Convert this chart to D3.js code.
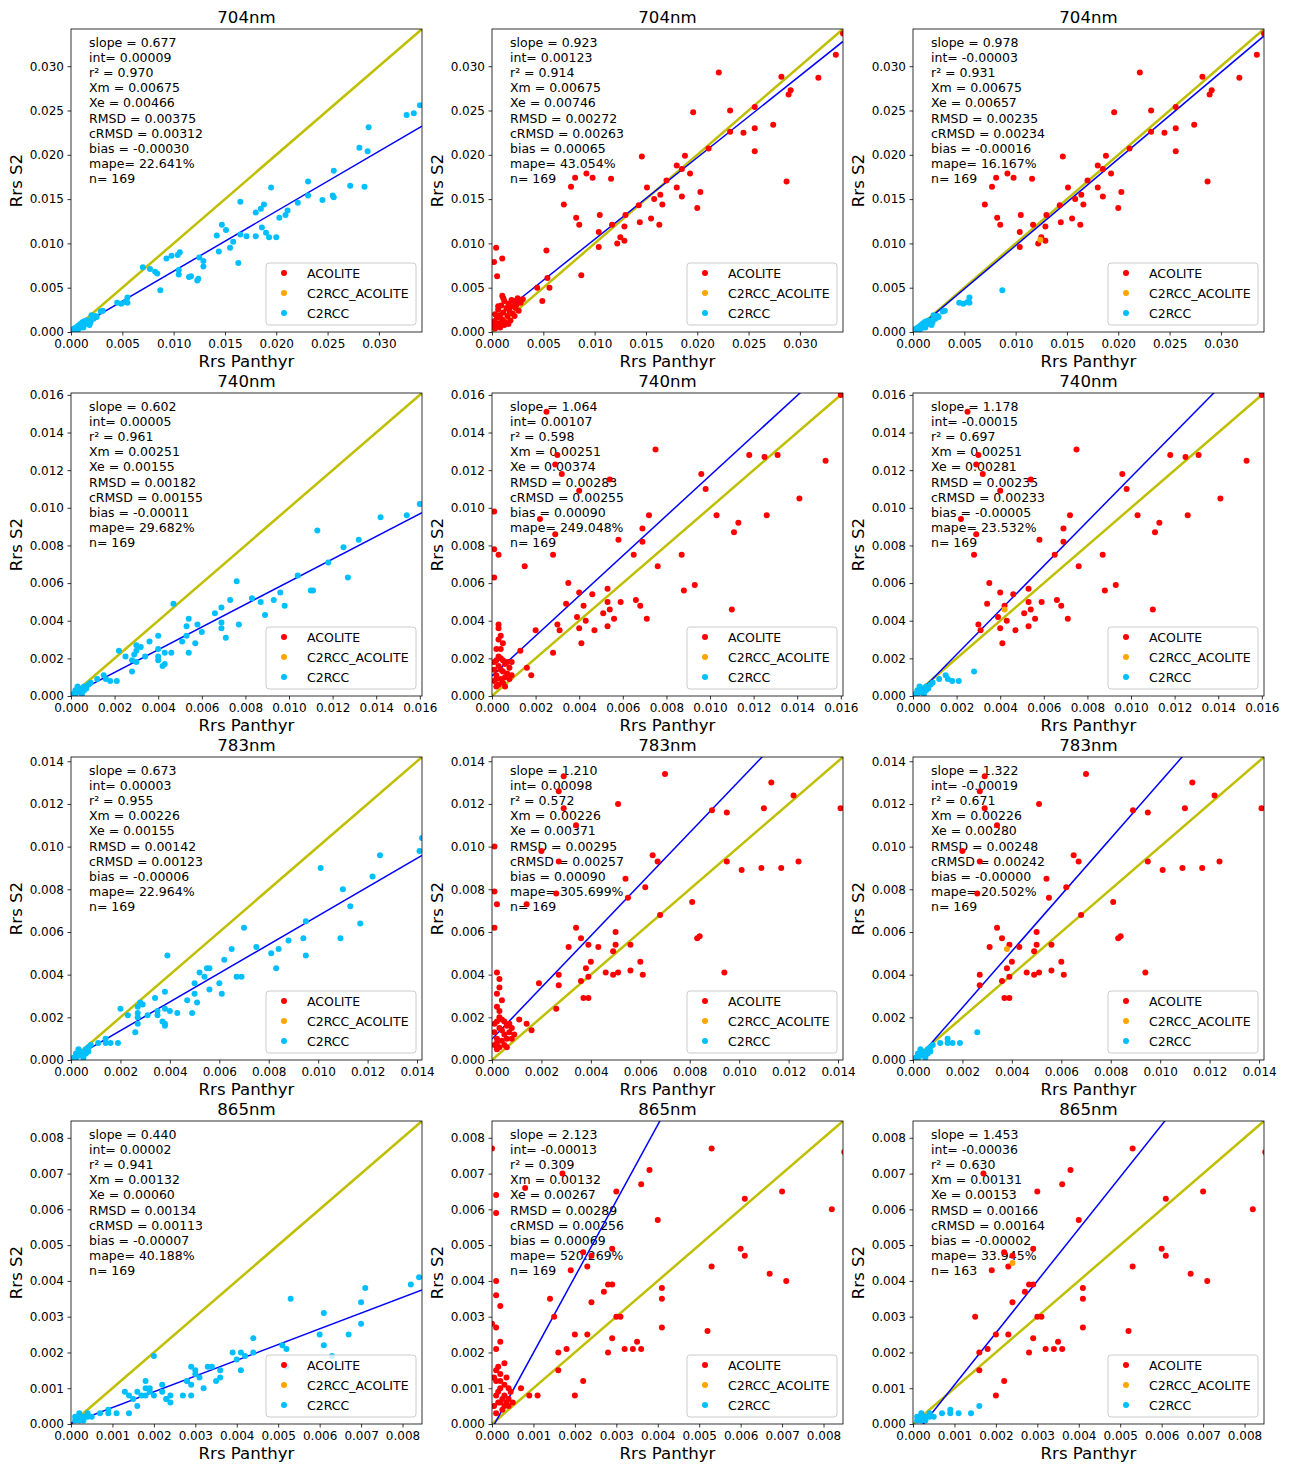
<!DOCTYPE html>
<html>
<head>
<meta charset="utf-8">
<script src="https://cdn.jsdelivr.net/npm/d3@7"></script>
<style>
  body { margin: 0; background: #fff; }
  text { font-family: "DejaVu Sans", sans-serif; }
</style>
</head>
<body>
<script>
// bands and axis limits (0 .. max on both axes)
var bands = ["704nm", "740nm", "783nm", "865nm"];
var axisMax = [0.0342, 0.0161, 0.0142, 0.00847];
var ticks704 = [0, 0.005, 0.010, 0.015, 0.020, 0.025, 0.030];
var ticks740 = [0, 0.002, 0.004, 0.006, 0.008, 0.010, 0.012, 0.014, 0.016];
var ticks783 = [0, 0.002, 0.004, 0.006, 0.008, 0.010, 0.012, 0.014];
var ticks865 = [0, 0.001, 0.002, 0.003, 0.004, 0.005, 0.006, 0.007, 0.008];
var seriesNames = ["ACOLITE", "C2RCC_ACOLITE", "C2RCC"];

// [Rrs Panthyr, Rrs S2]
var c2rcc704 = [[0.0340,0.0256],[0.0334,0.0247],[0.0327,0.0245],[0.0290,0.0231],[0.0281,0.0208],[0.0289,0.0204],
  [0.0256,0.0182],[0.0272,0.0165],[0.0286,0.0164],[0.0255,0.0154],[0.0256,0.0152],[0.0245,0.0149],[0.0231,0.0170],
  [0.0231,0.0154],[0.0221,0.0146],[0.0211,0.0137],[0.0209,0.0132],[0.0203,0.0129],[0.0200,0.0107],[0.0195,0.0163],
  [0.0188,0.0144],[0.0185,0.0139],[0.0180,0.0135],[0.0186,0.0118],[0.0190,0.0112],[0.0193,0.0107],[0.0180,0.0108],
  [0.0171,0.0108],[0.0165,0.0147],[0.0165,0.0110],[0.0163,0.0078],[0.0158,0.0102],[0.0155,0.0095],[0.0151,0.0115],
  [0.0147,0.0121],[0.0142,0.0109],[0.0144,0.0091],[0.0129,0.0074],[0.0129,0.0080],[0.0125,0.0084],[0.0124,0.0060],
  [0.0123,0.0058],[0.0117,0.0063],[0.0115,0.0062],[0.0106,0.0090],[0.0104,0.0087],[0.0105,0.0070],[0.0105,0.0065],
  [0.0098,0.0086],[0.0093,0.0083],[0.0087,0.0047],[0.0084,0.0066],[0.0082,0.0068],[0.0077,0.0071],[0.0070,0.0073],
  [0.0055,0.0039],[0.0053,0.0034],[0.0055,0.0033],[0.0049,0.0032],[0.0045,0.0033],[0.0031,0.0024],[0.0029,0.0023],
  [0.0025,0.0017],[0.0020,0.0019],[0.0018,0.0008],[0.0017,0.0013],[0.0002,0.0001],[0.0004,0.0003],[0.0005,0.0005],
  [0.0006,0.0002],[0.0007,0.0007],[0.0008,0.0004],[0.0009,0.0009],[0.0010,0.0006],[0.0011,0.0011],[0.0012,0.0008],
  [0.0013,0.0012],[0.0014,0.0010],[0.0015,0.0013],[0.0016,0.0009],[0.0003,0.0004],[0.0001,0.0002],[0.0012,0.0005],
  [0.0019,0.0011],[0.0022,0.0015],[0.0024,0.0018]];
var acolite704 = [[0.0342,0.0337],[0.0335,0.0313],[0.0318,0.0287],[0.0221,0.0293],[0.0282,0.0288],[0.0291,0.0273],
  [0.0289,0.0268],[0.0196,0.0248],[0.0232,0.0250],[0.0256,0.0254],[0.0256,0.0230],[0.0274,0.0234],[0.0232,0.0226],
  [0.0245,0.0225],[0.0256,0.0204],[0.0287,0.0170],[0.0211,0.0207],[0.0188,0.0199],[0.0180,0.0188],[0.0185,0.0184],
  [0.0193,0.0179],[0.0170,0.0171],[0.0180,0.0163],[0.0185,0.0153],[0.0203,0.0158],[0.0200,0.0140],[0.0164,0.0155],
  [0.0166,0.0144],[0.0158,0.0150],[0.0163,0.0121],[0.0155,0.0128],[0.0151,0.0163],[0.0146,0.0198],[0.0144,0.0124],
  [0.0143,0.0143],[0.0130,0.0132],[0.0129,0.0119],[0.0129,0.0103],[0.0125,0.0107],[0.0122,0.0100],[0.0117,0.0121],
  [0.0116,0.0173],[0.0105,0.0132],[0.0104,0.0113],[0.0104,0.0096],[0.0098,0.0174],[0.0092,0.0179],[0.0081,0.0174],
  [0.0077,0.0164],[0.0070,0.0144],[0.0082,0.0129],[0.0085,0.0121],[0.0087,0.0064],[0.0053,0.0092],[0.0054,0.0061],
  [0.0056,0.0050],[0.0044,0.0050],[0.0049,0.0035],[0.0002,0.0079],[0.0004,0.0095],[0.0005,0.0063],[0.0010,0.0083],
  [0.0010,0.0041],[0.0002,0.0012],[0.0003,0.0020],[0.0004,0.0008],[0.0005,0.0016],[0.0006,0.0025],[0.0007,0.0010],
  [0.0008,0.0019],[0.0009,0.0030],[0.0010,0.0014],[0.0011,0.0022],[0.0012,0.0035],[0.0013,0.0011],[0.0014,0.0027],
  [0.0015,0.0018],[0.0016,0.0032],[0.0017,0.0024],[0.0018,0.0013],[0.0019,0.0029],[0.0020,0.0021],[0.0021,0.0035],
  [0.0022,0.0018],[0.0023,0.0027],[0.0024,0.0031],[0.0026,0.0024],[0.0028,0.0033],[0.0030,0.0037],[0.0008,0.0005],
  [0.0003,0.0004],[0.0012,0.0008],[0.0016,0.0009],[0.0001,0.0007],[0.0006,0.0029],[0.0011,0.0038],[0.0019,0.0036],
  [0.0025,0.0038]];
var mixed704 = [[0.0124,0.0104]];

var c2rcc740 = [[0.0160,0.0102],[0.0154,0.0096],[0.0142,0.0095],[0.0113,0.0088],[0.0132,0.0083],[0.0125,0.0079],
  [0.0118,0.0071],[0.0127,0.0063],[0.0104,0.0064],[0.0110,0.0056],[0.0111,0.0056],[0.0096,0.0055],[0.0093,0.0051],
  [0.0098,0.0048],[0.0087,0.0050],[0.0083,0.0052],[0.0089,0.0043],[0.0076,0.0061],[0.0073,0.0051],[0.0069,0.0047],
  [0.0066,0.0044],[0.0069,0.0039],[0.0069,0.0036],[0.0077,0.0038],[0.0071,0.0031],[0.0058,0.0038],[0.0060,0.0034],
  [0.0057,0.0028],[0.0054,0.0041],[0.0053,0.0037],[0.0053,0.0032],[0.0051,0.0029],[0.0054,0.0023],[0.0047,0.0049],
  [0.0046,0.0023],[0.0040,0.0032],[0.0040,0.0025],[0.0040,0.0021],[0.0043,0.0023],[0.0042,0.0016],[0.0043,0.0017],
  [0.0040,0.0019],[0.0036,0.0029],[0.0034,0.0021],[0.0030,0.0027],[0.0032,0.0026],[0.0030,0.0024],[0.0029,0.0022],
  [0.0028,0.0019],[0.0030,0.0018],[0.0025,0.0021],[0.0022,0.0024],[0.0028,0.0013],[0.0021,0.0008],[0.0018,0.0008],
  [0.0016,0.0009],[0.0015,0.0011],[0.0012,0.0009],[0.0001,0.0001],[0.0002,0.0003],[0.0003,0.0002],[0.0004,0.0004],
  [0.0005,0.0002],[0.0006,0.0005],[0.0007,0.0004],[0.0008,0.0006],[0.0009,0.0007],[0.0003,0.0005],[0.0005,0.0001],
  [0.0006,0.0003],[0.0002,0.0001],[0.0004,0.0003]];
var acolite740 = [[0.0160,0.0160],[0.0025,0.0151],[0.0075,0.0131],[0.0118,0.0128],[0.0125,0.0127],[0.0131,0.0128],
  [0.0153,0.0125],[0.0030,0.0128],[0.0029,0.0123],[0.0032,0.0118],[0.0096,0.0118],[0.0054,0.0115],[0.0098,0.0110],
  [0.0040,0.0109],[0.0141,0.0105],[0.0001,0.0098],[0.0103,0.0096],[0.0126,0.0096],[0.0072,0.0096],[0.0113,0.0092],
  [0.0022,0.0094],[0.0111,0.0087],[0.0069,0.0089],[0.0029,0.0086],[0.0058,0.0083],[0.0069,0.0082],[0.0001,0.0078],
  [0.0003,0.0075],[0.0028,0.0075],[0.0065,0.0075],[0.0087,0.0075],[0.0076,0.0069],[0.0015,0.0069],[0.0001,0.0063],
  [0.0035,0.0060],[0.0093,0.0059],[0.0088,0.0056],[0.0053,0.0057],[0.0040,0.0055],[0.0046,0.0054],[0.0034,0.0049],
  [0.0053,0.0050],[0.0059,0.0050],[0.0066,0.0051],[0.0042,0.0048],[0.0068,0.0048],[0.0054,0.0046],[0.0110,0.0046],
  [0.0051,0.0044],[0.0039,0.0042],[0.0056,0.0041],[0.0071,0.0041],[0.0043,0.0040],[0.0030,0.0038],[0.0053,0.0037],
  [0.0040,0.0036],[0.0047,0.0035],[0.0031,0.0035],[0.0020,0.0035],[0.0041,0.0028],[0.0028,0.0023],[0.0013,0.0024],
  [0.0016,0.0015],[0.0018,0.0011],[0.0009,0.0018],[0.0003,0.0038],[0.0003,0.0036],[0.0004,0.0032],[0.0003,0.0030],
  [0.0005,0.0028],[0.0004,0.0025],[0.0002,0.0025],[0.0001,0.0008],[0.0001,0.0014],[0.0002,0.0019],[0.0002,0.0011],
  [0.0003,0.0006],[0.0003,0.0016],[0.0004,0.0009],[0.0004,0.0020],[0.0005,0.0013],[0.0005,0.0007],[0.0006,0.0017],
  [0.0006,0.0010],[0.0007,0.0012],[0.0007,0.0018],[0.0008,0.0009],[0.0008,0.0015],[0.0009,0.0011],[0.0002,0.0005],
  [0.0001,0.0018],[0.0004,0.0014],[0.0006,0.0005],[0.0003,0.0021],[0.0005,0.0019],[0.0002,0.0009]];
var mixed740 = [[0.0042,0.0046]];

var c2rcc783 = [[0.0142,0.0104],[0.0141,0.0098],[0.0125,0.0096],[0.0101,0.0090],[0.0122,0.0086],[0.0110,0.0080],
  [0.0113,0.0072],[0.0117,0.0064],[0.0095,0.0065],[0.0070,0.0062],[0.0088,0.0056],[0.0094,0.0057],[0.0109,0.0057],
  [0.0095,0.0049],[0.0075,0.0053],[0.0065,0.0052],[0.0084,0.0052],[0.0081,0.0050],[0.0083,0.0043],[0.0062,0.0047],
  [0.0055,0.0043],[0.0056,0.0043],[0.0052,0.0041],[0.0054,0.0039],[0.0067,0.0039],[0.0069,0.0039],[0.0050,0.0036],
  [0.0056,0.0033],[0.0060,0.0036],[0.0061,0.0031],[0.0050,0.0031],[0.0051,0.0027],[0.0049,0.0022],[0.0047,0.0028],
  [0.0043,0.0022],[0.0040,0.0023],[0.0039,0.0049],[0.0038,0.0032],[0.0038,0.0024],[0.0034,0.0029],[0.0035,0.0023],
  [0.0035,0.0021],[0.0037,0.0018],[0.0038,0.0017],[0.0038,0.0016],[0.0031,0.0021],[0.0029,0.0026],[0.0028,0.0027],
  [0.0027,0.0025],[0.0027,0.0022],[0.0027,0.0020],[0.0027,0.0017],[0.0023,0.0021],[0.0020,0.0024],[0.0026,0.0013],
  [0.0019,0.0008],[0.0016,0.0008],[0.0014,0.0010],[0.0014,0.0008],[0.0011,0.0008],[0.0001,0.0001],[0.0002,0.0003],
  [0.0003,0.0002],[0.0004,0.0004],[0.0005,0.0002],[0.0006,0.0005],[0.0007,0.0004],[0.0007,0.0006],[0.0003,0.0005],
  [0.0005,0.0001],[0.0006,0.0003],[0.0002,0.0001],[0.0004,0.0003],[0.0008,0.0007]];
var acolite783 = [[0.0141,0.0118],[0.0070,0.0134],[0.0029,0.0133],[0.0027,0.0126],[0.0113,0.0130],[0.0122,0.0124],
  [0.0051,0.0120],[0.0029,0.0118],[0.0089,0.0117],[0.0095,0.0116],[0.0110,0.0118],[0.0034,0.0110],[0.0001,0.0100],
  [0.0020,0.0098],[0.0065,0.0096],[0.0067,0.0093],[0.0027,0.0093],[0.0095,0.0093],[0.0124,0.0093],[0.0109,0.0090],
  [0.0117,0.0090],[0.0101,0.0089],[0.0054,0.0085],[0.0062,0.0081],[0.0001,0.0079],[0.0026,0.0078],[0.0055,0.0076],
  [0.0002,0.0073],[0.0014,0.0073],[0.0081,0.0074],[0.0068,0.0068],[0.0001,0.0062],[0.0034,0.0062],[0.0050,0.0060],
  [0.0036,0.0057],[0.0039,0.0054],[0.0050,0.0054],[0.0056,0.0054],[0.0084,0.0058],[0.0083,0.0057],[0.0031,0.0053],
  [0.0043,0.0053],[0.0049,0.0051],[0.0040,0.0046],[0.0060,0.0046],[0.0038,0.0043],[0.0046,0.0041],[0.0056,0.0042],
  [0.0051,0.0041],[0.0049,0.0040],[0.0061,0.0040],[0.0094,0.0041],[0.0027,0.0040],[0.0039,0.0039],[0.0036,0.0037],
  [0.0027,0.0035],[0.0019,0.0036],[0.0037,0.0029],[0.0039,0.0029],[0.0026,0.0024],[0.0011,0.0019],[0.0014,0.0017],
  [0.0016,0.0014],[0.0002,0.0041],[0.0003,0.0038],[0.0003,0.0034],[0.0002,0.0031],[0.0004,0.0028],[0.0002,0.0025],
  [0.0003,0.0023],[0.0001,0.0007],[0.0001,0.0013],[0.0002,0.0018],[0.0002,0.0010],[0.0003,0.0006],[0.0003,0.0015],
  [0.0004,0.0009],[0.0004,0.0019],[0.0005,0.0012],[0.0005,0.0007],[0.0006,0.0016],[0.0006,0.0010],[0.0007,0.0013],
  [0.0007,0.0017],[0.0008,0.0010],[0.0008,0.0015],[0.0002,0.0005],[0.0001,0.0017],[0.0004,0.0014],[0.0006,0.0006],
  [0.0003,0.0020],[0.0005,0.0018],[0.0002,0.0008],[0.0009,0.0012]];
var mixed783 = [[0.0038,0.0052]];

var c2rcc865 = [[0.0084,0.0041],[0.0082,0.0039],[0.0071,0.0038],[0.0070,0.0034],[0.0053,0.0035],[0.0061,0.0031],
  [0.0070,0.0028],[0.0060,0.0025],[0.0067,0.0025],[0.0061,0.0022],[0.0063,0.0019],[0.0051,0.0022],[0.0052,0.0021],
  [0.0052,0.0016],[0.0044,0.0024],[0.0044,0.0020],[0.0039,0.0020],[0.0041,0.0020],[0.0042,0.0019],[0.0040,0.0018],
  [0.0041,0.0015],[0.0034,0.0016],[0.0033,0.0016],[0.0036,0.0015],[0.0036,0.0013],[0.0035,0.0012],[0.0029,0.0016],
  [0.0030,0.0015],[0.0030,0.0014],[0.0031,0.0013],[0.0032,0.0010],[0.0028,0.0012],[0.0028,0.0012],[0.0029,0.0011],
  [0.0027,0.0008],[0.0029,0.0008],[0.0020,0.0019],[0.0018,0.0012],[0.0022,0.0011],[0.0022,0.0009],[0.0024,0.0008],
  [0.0023,0.0007],[0.0023,0.0007],[0.0024,0.0006],[0.0018,0.0010],[0.0019,0.0010],[0.0018,0.0008],[0.0020,0.0008],
  [0.0019,0.0009],[0.0013,0.0009],[0.0014,0.0008],[0.0016,0.0009],[0.0017,0.0008],[0.0015,0.0007],[0.0016,0.0005],
  [0.0014,0.0003],[0.0011,0.0003],[0.0009,0.0003],[0.0009,0.0004],[0.0007,0.0003],[0.0001,0.0001],[0.0002,0.0002],
  [0.0003,0.0001],[0.0003,0.0002],[0.0004,0.0002],[0.0001,0.0002],[0.0002,0.0001],[0.0002,0.0003],[0.0004,0.0003],
  [0.0005,0.0002]];
var acolite865 = [[0.0085,0.0076],[0.0053,0.0077],[0.0000,0.0077],[0.0038,0.0071],[0.0017,0.0070],[0.0008,0.0066],
  [0.0036,0.0067],[0.0030,0.0065],[0.0070,0.0065],[0.0061,0.0063],[0.0001,0.0064],[0.0001,0.0059],[0.0082,0.0060],
  [0.0040,0.0057],[0.0029,0.0049],[0.0060,0.0049],[0.0061,0.0047],[0.0022,0.0048],[0.0024,0.0047],[0.0023,0.0044],
  [0.0053,0.0044],[0.0019,0.0043],[0.0067,0.0042],[0.0071,0.0040],[0.0001,0.0040],[0.0028,0.0039],[0.0029,0.0039],
  [0.0041,0.0038],[0.0027,0.0037],[0.0041,0.0035],[0.0001,0.0036],[0.0014,0.0035],[0.0024,0.0034],[0.0002,0.0033],
  [0.0030,0.0030],[0.0031,0.0030],[0.0015,0.0030],[0.0000,0.0028],[0.0001,0.0027],[0.0041,0.0027],[0.0052,0.0026],
  [0.0020,0.0025],[0.0023,0.0025],[0.0029,0.0024],[0.0035,0.0023],[0.0002,0.0023],[0.0032,0.0021],[0.0034,0.0021],
  [0.0036,0.0021],[0.0018,0.0021],[0.0001,0.0021],[0.0028,0.0020],[0.0016,0.0020],[0.0016,0.0015],[0.0022,0.0012],
  [0.0007,0.0010],[0.0011,0.0008],[0.0020,0.0008],[0.0009,0.0008],[0.00005,0.0005],[0.0001,0.0008],[0.0001,0.0012],
  [0.00015,0.0016],[0.0002,0.0006],[0.0002,0.0010],[0.0002,0.0014],[0.00025,0.0004],[0.0003,0.0008],[0.0003,0.0011],
  [0.0003,0.0017],[0.00035,0.0006],[0.0004,0.0010],[0.0004,0.0007],[0.00045,0.0009],[0.0005,0.0006],[0.00005,0.0013],
  [0.0001,0.0003],[0.00015,0.0009],[0.0002,0.0012],[0.00025,0.0007],[0.0003,0.0005],[0.00035,0.0013],[0.0001,0.0015],
  [0.0004,0.0005],[0.00015,0.0006]];
var mixed865 = [[0.0024,0.0045]];

// switching rule of the combined product: [ACOLITE min Panthyr, ACOLITE min S2, C2RCC max S2]
var switch704 = [0.0065, 0.0090, 0.0050];
var switch740 = [0.0021, 0.0025, 0.0014];
var switch783 = [0.00195, 0.0027, 0.0014];
var switch865 = [0.00145, 0.0007, 0.00055];

// stats: slope, int, r2, Xm, Xe, RMSD, cRMSD, bias, mape, n  (C2RCC, ACOLITE, combined)
var stats704 = [
  ["0.677", "0.00009", "0.970", "0.00675", "0.00466", "0.00375", "0.00312", "-0.00030", "22.641%", "169"],
  ["0.923", "0.00123", "0.914", "0.00675", "0.00746", "0.00272", "0.00263", "0.00065", "43.054%", "169"],
  ["0.978", "-0.00003", "0.931", "0.00675", "0.00657", "0.00235", "0.00234", "-0.00016", "16.167%", "169"]];
var stats740 = [
  ["0.602", "0.00005", "0.961", "0.00251", "0.00155", "0.00182", "0.00155", "-0.00011", "29.682%", "169"],
  ["1.064", "0.00107", "0.598", "0.00251", "0.00374", "0.00283", "0.00255", "0.00090", "249.048%", "169"],
  ["1.178", "-0.00015", "0.697", "0.00251", "0.00281", "0.00235", "0.00233", "-0.00005", "23.532%", "169"]];
var stats783 = [
  ["0.673", "0.00003", "0.955", "0.00226", "0.00155", "0.00142", "0.00123", "-0.00006", "22.964%", "169"],
  ["1.210", "0.00098", "0.572", "0.00226", "0.00371", "0.00295", "0.00257", "0.00090", "305.699%", "169"],
  ["1.322", "-0.00019", "0.671", "0.00226", "0.00280", "0.00248", "0.00242", "-0.00000", "20.502%", "169"]];
var stats865 = [
  ["0.440", "0.00002", "0.941", "0.00132", "0.00060", "0.00134", "0.00113", "-0.00007", "40.188%", "169"],
  ["2.123", "-0.00013", "0.309", "0.00132", "0.00267", "0.00289", "0.00256", "0.00069", "520.269%", "169"],
  ["1.453", "-0.00036", "0.630", "0.00131", "0.00153", "0.00166", "0.00164", "-0.00002", "33.945%", "163"]];
var statLabels = ["slope = ", "int= ", "r\u00b2 = ", "Xm = ", "Xe = ", "RMSD = ", "cRMSD = ", "bias = ", "mape= ", "n= "];

var allTicks = [ticks704, ticks740, ticks783, ticks865];
var allC2rcc = [c2rcc704, c2rcc740, c2rcc783, c2rcc865];
var allAcolite = [acolite704, acolite740, acolite783, acolite865];
var allMixed = [mixed704, mixed740, mixed783, mixed865];
var allSwitch = [switch704, switch740, switch783, switch865];
var allStats = [stats704, stats740, stats783, stats865];

var colors = {"ACOLITE": "#ff0000", "C2RCC_ACOLITE": "#ffa500", "C2RCC": "#00bfff"};

var W = 351, H = 303;
var lefts = [71, 492, 913];
var tops = [29, 393, 757, 1121];

var svg = d3.select("body").append("svg")
    .attr("width", 1290)
    .attr("height", 1464);

var fmt = d3.format(".3f");

bands.forEach(function(band, r) {
  var sw = allSwitch[r];
  // what each column shows
  var panels = [
    {"ACOLITE": [], "C2RCC_ACOLITE": [], "C2RCC": allC2rcc[r]},
    {"ACOLITE": allAcolite[r], "C2RCC_ACOLITE": [], "C2RCC": []},
    {"ACOLITE": allAcolite[r].filter(function(d) { return d[0] > sw[0] && d[1] > sw[1]; }),
     "C2RCC_ACOLITE": allMixed[r],
     "C2RCC": allC2rcc[r].filter(function(d) { return d[1] < sw[2]; })}
  ];

  panels.forEach(function(p, c) {
    var g = svg.append("g")
        .attr("transform", "translate(" + lefts[c] + "," + tops[r] + ")");

    var x = d3.scaleLinear().domain([0, axisMax[r]]).range([0, W]);
    var y = d3.scaleLinear().domain([0, axisMax[r]]).range([H, 0]);

    var clipId = "clip" + r + "_" + c;
    g.append("clipPath").attr("id", clipId)
      .append("rect").attr("width", W).attr("height", H);

    // axes
    var xa = g.append("g")
        .attr("transform", "translate(0," + H + ")")
        .call(d3.axisBottom(x).tickValues(allTicks[r]).tickFormat(fmt).tickSize(3.5).tickPadding(3.5));
    var ya = g.append("g")
        .call(d3.axisLeft(y).tickValues(allTicks[r]).tickFormat(fmt).tickSize(3.5).tickPadding(3.5));
    [xa, ya].forEach(function(a) {
      a.select(".domain").remove();
      a.selectAll("line").attr("stroke", "#000").attr("stroke-width", 0.8);
      a.selectAll("text").attr("font-family", "DejaVu Sans").attr("font-size", "12px").attr("fill", "#000");
    });

    // stats text
    var st = allStats[r][c];
    g.append("g").selectAll("text")
      .data(st)
      .enter()
      .append("text")
      .attr("x", 18)
      .attr("y", function(d, i) { return 17.5 + i * 15.2; })
      .attr("font-size", "12.5px")
      .text(function(d, i) { return statLabels[i] + d; });

    var plot = g.append("g").attr("clip-path", "url(#" + clipId + ")");

    // 1:1 line
    plot.append("line")
      .attr("x1", x(0)).attr("y1", y(0))
      .attr("x2", x(axisMax[r])).attr("y2", y(axisMax[r]))
      .attr("stroke", "#bfbf00")
      .attr("stroke-width", 2.5);

    // regression line
    var slope = +st[0], icpt = +st[1];
    plot.append("line")
      .attr("x1", x(0)).attr("y1", y(icpt))
      .attr("x2", x(axisMax[r])).attr("y2", y(slope * axisMax[r] + icpt))
      .attr("stroke", "#0000ff")
      .attr("stroke-width", 1.5);

    seriesNames.forEach(function(name) {
      plot.append("g").selectAll("circle")
        .data(p[name])
        .enter()
        .append("circle")
        .attr("cx", function(d) { return x(d[0]); })
        .attr("cy", function(d) { return y(d[1]); })
        .attr("r", 3)
        .attr("fill", colors[name]);
    });

    // frame
    g.append("rect")
      .attr("width", W).attr("height", H)
      .attr("fill", "none")
      .attr("stroke", "#000")
      .attr("stroke-width", 0.8);

    // legend
    var lg = g.append("g").attr("transform", "translate(195," + (H - 69) + ")");
    lg.append("rect")
      .attr("width", 150).attr("height", 62)
      .attr("rx", 3)
      .attr("fill", "#fff").attr("fill-opacity", 0.8)
      .attr("stroke", "#cccccc");
    seriesNames.forEach(function(name, i) {
      lg.append("circle")
        .attr("cx", 18).attr("cy", 10 + i * 20)
        .attr("r", 3)
        .attr("fill", colors[name]);
      lg.append("text")
        .attr("x", 41).attr("y", 10 + i * 20 + 4.5)
        .attr("font-size", "12.5px")
        .text(name);
    });

    // title and axis labels
    g.append("text")
      .attr("x", W / 2).attr("y", -6)
      .attr("text-anchor", "middle")
      .attr("font-size", "16.6px")
      .text(band);
    g.append("text")
      .attr("x", W / 2).attr("y", H + 35)
      .attr("text-anchor", "middle")
      .attr("font-size", "16.6px")
      .text("Rrs Panthyr");
    g.append("text")
      .attr("transform", "translate(-49," + (H / 2) + ") rotate(-90)")
      .attr("text-anchor", "middle")
      .attr("font-size", "16.6px")
      .text("Rrs S2");
  });
});
</script>
</body>
</html>
